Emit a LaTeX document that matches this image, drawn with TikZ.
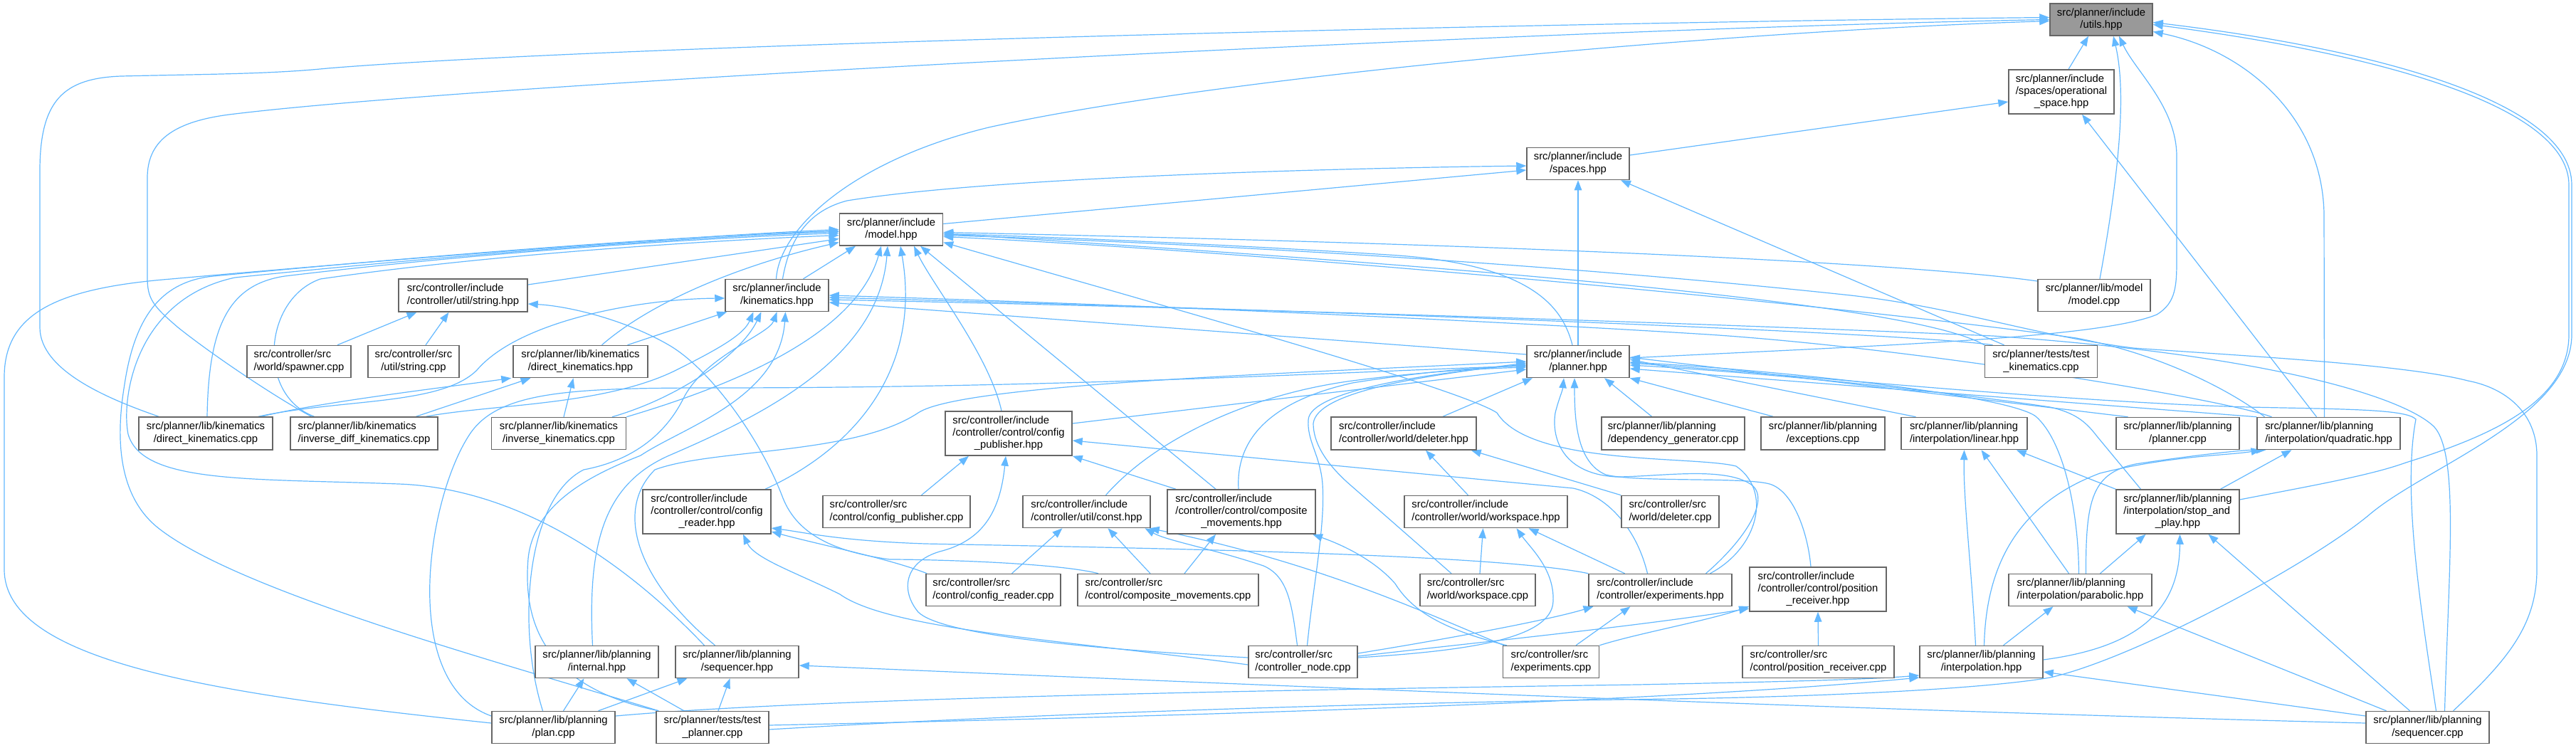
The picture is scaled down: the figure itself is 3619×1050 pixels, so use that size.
\documentclass[tikz,border=0pt]{standalone}
\usepackage{fontspec}
\setmainfont{Liberation Sans}
\usetikzlibrary{arrows.meta}
\definecolor{edgeblue}{HTML}{63B8FF}
\definecolor{boxline}{HTML}{666666}
\definecolor{rootfill}{HTML}{999999}
\newcommand{\twol}[2]{\begin{tabular}{@{}l@{}}#1\\\multicolumn{1}{@{}c@{}}{#2}\end{tabular}}
\newcommand{\threel}[3]{\begin{tabular}{@{}l@{}}#1\\#2\\\multicolumn{1}{@{}c@{}}{#3}\end{tabular}}
\pgfdeclarelayer{bg}
\pgfsetlayers{bg,main}
\begin{document}
\begin{tikzpicture}[x=1pt,y=-1pt,
 nb/.style={draw=boxline,line width=1.5pt,fill=white,inner sep=0pt,font=\fontsize{14.8}{17.3}\selectfont},
 e/.style={draw=edgeblue,line width=1.2pt,-{Triangle[length=14pt,width=10.5pt]}}]
\useasboundingbox (0,0) rectangle (3619,1050);
% ---------------- nodes
\node[nb,fill=rootfill,minimum width=144pt,minimum height=45pt] (utils) at (2952,27.5) {\twol{src/planner/include}{/utils.hpp}};
\node[nb,minimum width=148pt,minimum height=62pt] (opsp) at (2896,129) {\threel{src/planner/include}{/spaces/operational}{\_space.hpp}};
\node[nb,minimum width=144pt,minimum height=45pt] (spaces) at (2217,230) {\twol{src/planner/include}{/spaces.hpp}};
\node[nb,minimum width=145pt,minimum height=45pt] (model) at (1252,322.5) {\twol{src/planner/include}{/model.hpp}};
\node[nb,minimum width=181pt,minimum height=46pt] (stringh) at (650.5,415) {\twol{src/controller/include}{/controller/util/string.hpp}};
\node[nb,minimum width=145pt,minimum height=45pt] (kin) at (1091.5,415) {\twol{src/planner/include}{/kinematics.hpp}};
\node[nb,minimum width=158pt,minimum height=45pt] (modelcpp) at (2942,415) {\twol{src/planner/lib/model}{/model.cpp}};
\node[nb,minimum width=146pt,minimum height=45pt] (spawner) at (420,508) {\twol{src/controller/src}{/world/spawner.cpp}};
\node[nb,minimum width=128pt,minimum height=45pt] (stringcpp) at (581,508) {\twol{src/controller/src}{/util/string.cpp}};
\node[nb,minimum width=189pt,minimum height=45pt] (dkh) at (815.5,508) {\twol{src/planner/lib/kinematics}{/direct\_kinematics.hpp}};
\node[nb,minimum width=144pt,minimum height=45pt] (planner) at (2217,508) {\twol{src/planner/include}{/planner.hpp}};
\node[nb,minimum width=158pt,minimum height=45pt] (testkin) at (2867.5,508) {\twol{src/planner/tests/test}{\_kinematics.cpp}};
\node[nb,minimum width=188pt,minimum height=46pt] (dkcpp) at (289,609) {\twol{src/planner/lib/kinematics}{/direct\_kinematics.cpp}};
\node[nb,minimum width=207pt,minimum height=46pt] (idkcpp) at (511.5,609) {\twol{src/planner/lib/kinematics}{/inverse\_diff\_kinematics.cpp}};
\node[nb,minimum width=189pt,minimum height=45pt] (ikcpp) at (785,609) {\twol{src/planner/lib/kinematics}{/inverse\_kinematics.cpp}};
\node[nb,minimum width=178pt,minimum height=62pt] (cfgpub) at (1417,609) {\threel{src/controller/include}{/controller/control/config}{\_publisher.hpp}};
\node[nb,minimum width=204pt,minimum height=46pt] (deleterh) at (1972,609) {\twol{src/controller/include}{/controller/world/deleter.hpp}};
\node[nb,minimum width=201pt,minimum height=46pt] (depgen) at (2350.5,609) {\twol{src/planner/lib/planning}{/dependency\_generator.cpp}};
\node[nb,minimum width=174pt,minimum height=46pt] (exceptions) at (2561,609) {\twol{src/planner/lib/planning}{/exceptions.cpp}};
\node[nb,minimum width=177pt,minimum height=45pt] (linear) at (2759.5,609) {\twol{src/planner/lib/planning}{/interpolation/linear.hpp}};
\node[nb,minimum width=173pt,minimum height=45pt] (plannercpp) at (3059.5,609) {\twol{src/planner/lib/planning}{/planner.cpp}};
\node[nb,minimum width=201pt,minimum height=45pt] (quadratic) at (3271.5,609) {\twol{src/planner/lib/planning}{/interpolation/quadratic.hpp}};
\node[nb,minimum width=180pt,minimum height=62pt] (cfgreaderh) at (993,719) {\threel{src/controller/include}{/controller/control/config}{\_reader.hpp}};
\node[nb,minimum width=207pt,minimum height=45pt] (cfgpubcpp) at (1259.5,719) {\twol{src/controller/src}{/control/config\_publisher.cpp}};
\node[nb,minimum width=179pt,minimum height=45pt] (const) at (1526.5,719) {\twol{src/controller/include}{/controller/util/const.hpp}};
\node[nb,minimum width=208pt,minimum height=62pt] (composite) at (1744,719) {\threel{src/controller/include}{/controller/control/composite}{\_movements.hpp}};
\node[nb,minimum width=229pt,minimum height=45pt] (workspaceh) at (2087.5,719) {\twol{src/controller/include}{/controller/world/workspace.hpp}};
\node[nb,minimum width=137pt,minimum height=45pt] (deletercpp) at (2346.5,719) {\twol{src/controller/src}{/world/deleter.cpp}};
\node[nb,minimum width=173pt,minimum height=62pt] (stopplay) at (3059.5,719) {\threel{src/planner/lib/planning}{/interpolation/stop\_and}{\_play.hpp}};
\node[nb,minimum width=189pt,minimum height=45pt] (cfgreadercpp) at (1395.5,829) {\twol{src/controller/src}{/control/config\_reader.cpp}};
\node[nb,minimum width=254pt,minimum height=45pt] (compcpp) at (1641,829) {\twol{src/controller/src}{/control/composite\_movements.cpp}};
\node[nb,minimum width=162pt,minimum height=45pt] (wscpp) at (2076,829) {\twol{src/controller/src}{/world/workspace.cpp}};
\node[nb,minimum width=201pt,minimum height=45pt] (exph) at (2332.5,829) {\twol{src/controller/include}{/controller/experiments.hpp}};
\node[nb,minimum width=192pt,minimum height=62pt] (posrecvh) at (2554,828) {\threel{src/controller/include}{/controller/control/position}{\_receiver.hpp}};
\node[nb,minimum width=201pt,minimum height=45pt] (parabolic) at (2922.5,829) {\twol{src/planner/lib/planning}{/interpolation/parabolic.hpp}};
\node[nb,minimum width=173pt,minimum height=45pt] (internal) at (838.5,930) {\twol{src/planner/lib/planning}{/internal.hpp}};
\node[nb,minimum width=173pt,minimum height=45pt] (seqhpp) at (1035.5,930) {\twol{src/planner/lib/planning}{/sequencer.hpp}};
\node[nb,minimum width=153pt,minimum height=45pt] (ctrlnode) at (1830.5,930) {\twol{src/controller/src}{/controller\_node.cpp}};
\node[nb,minimum width=135pt,minimum height=45pt] (expcpp) at (2179,930) {\twol{src/controller/src}{/experiments.cpp}};
\node[nb,minimum width=213pt,minimum height=45pt] (posrecvcpp) at (2554.5,930) {\twol{src/controller/src}{/control/position\_receiver.cpp}};
\node[nb,minimum width=173pt,minimum height=45pt] (interp) at (2783.5,930) {\twol{src/planner/lib/planning}{/interpolation.hpp}};
\node[nb,minimum width=173pt,minimum height=45pt] (plancpp) at (777.5,1022) {\twol{src/planner/lib/planning}{/plan.cpp}};
\node[nb,minimum width=158pt,minimum height=45pt] (testplanner) at (1001,1022) {\twol{src/planner/tests/test}{\_planner.cpp}};
\node[nb,minimum width=173pt,minimum height=45pt] (seqcpp) at (3410.5,1022) {\twol{src/planner/lib/planning}{/sequencer.cpp}};
% ---------------- edges
\begin{pgfonlayer}{bg}
% utils
\draw[e] ([xshift=10pt]opsp.north) -- ([xshift=-18pt]utils.south);
\draw[e] ([xshift=8pt]modelcpp.north) .. controls (2972,270) and (2990,140) .. ([xshift=17pt]utils.south);
\draw[e] ([yshift=5pt]planner.east) .. controls (2650,485) and (2950,475) .. (3030,442) .. controls (3058,425) and (3058,400) .. (3058,360) -- (3058,220) .. controls (3058,150) and (3000,100) .. ([xshift=25pt]utils.south);
\draw[e] ([xshift=-6pt]quadratic.north) -- (3265,300) .. controls (3262,160) and (3150,70) .. ([yshift=-17pt]utils.east);
\draw[e] ([yshift=17pt]stopplay.east) .. controls (3250,682) and (3330,668) .. (3380,650) .. controls (3500,612) and (3609,565) .. (3609,470) -- (3609,260) .. controls (3609,140) and (3300,70) .. ([yshift=-7pt]utils.east);
\draw[e] ([yshift=-3pt]testplanner.east) .. controls (1500,1000) and (2000,986) .. (2350,982) .. controls (2600,978) and (2800,966) .. (2880,952) .. controls (3000,925) and (3250,790) .. (3330,722) .. controls (3410,655) and (3613,585) .. (3613,470) -- (3613,260) .. controls (3613,135) and (3300,64) .. ([yshift=-4pt]utils.east);
\draw[e] ([xshift=-1pt]kin.north) .. controls (1095,320) and (1200,225) .. (1389,179) .. controls (1700,110) and (2400,45) .. ([yshift=-2pt]utils.west);
\draw[e] ([xshift=-66pt]dkcpp.north) .. controls (150,560) and (56,520) .. (56,460) -- (56,240) .. controls (56,140) and (90,110) .. (170,107) .. controls (300,104) and (380,104) .. (460,96) .. controls (900,60) and (2300,30) .. ([yshift=3pt]utils.west);
\draw[e] ([xshift=-74pt]idkcpp.north) .. controls (390,560) and (300,500) .. (250,460) .. controls (215,430) and (207,420) .. (207,390) -- (207,250) .. controls (207,200) and (240,170) .. (330,160) .. controls (700,115) and (2200,40) .. ([yshift=0pt]utils.west);
% opsp
\draw[e] ([yshift=12pt]spaces.east) -- ([yshift=-14pt]opsp.west);
\draw[e] ([xshift=-17pt]quadratic.north) -- ([xshift=29pt]opsp.south);
% spaces
\draw[e] ([xshift=8pt]kin.north) .. controls (1110,330) and (1140,295) .. (1190,282) .. controls (1400,248) and (1900,236) .. ([yshift=-3pt]spaces.west);
\draw[e] ([yshift=8pt]model.east) -- ([yshift=-9pt]spaces.west);
\draw[e] (planner.north) -- (spaces.south);
\draw[e] ([xshift=-52pt]testkin.north) -- ([xshift=60pt]spaces.south);
% model
\draw[e] ([xshift=37pt]kin.north) -- ([xshift=-50pt]model.south);
\draw[e] ([yshift=6pt]plancpp.west) .. controls (300,975) and (6,930) .. (6,800) -- (6,530) .. controls (6,440) and (80,405) .. (240,392) .. controls (600,360) and (1000,330) .. ([yshift=0pt]model.west);
\draw[e] ([xshift=4pt]testplanner.north west) .. controls (700,930) and (330,830) .. (220,740) .. controls (160,690) and (165,600) .. (175,540) .. controls (190,440) and (230,395) .. (300,388) .. controls (700,350) and (1000,330) .. ([yshift=-2pt]model.west);
\draw[e] ([xshift=-46pt]seqhpp.north) .. controls (850,760) and (700,685) .. (560,680) .. controls (350,672) and (200,680) .. (180,610) .. controls (170,560) and (190,420) .. (330,390) .. controls (700,352) and (1000,332) .. ([yshift=-3pt]model.west);
\draw[e] ([xshift=2pt]dkcpp.north) .. controls (293,460) and (320,400) .. (400,388) .. controls (700,352) and (1000,334) .. ([yshift=-5pt]model.west);
\draw[e] ([xshift=-70pt]idkcpp.north) .. controls (360,555) and (370,420) .. (450,392) .. controls (700,356) and (1000,338) .. ([yshift=-8pt]model.west);
\draw[e] ([yshift=15pt]stringh.east) -- ([yshift=-13pt]model.west);
\draw[e] ([xshift=30pt]dkh.north) .. controls (920,420) and (1050,370) .. ([yshift=-18pt]model.west);
\draw[e] (ikcpp.north east) .. controls (1000,550) and (1200,480) .. ([xshift=-14pt]model.south);
\draw[e] ([xshift=-6pt]internal.north) .. controls (825,760) and (850,680) .. (940,640) .. controls (1080,580) and (1235,500) .. ([xshift=-5pt]model.south);
\draw[e] ([xshift=82pt]cfgreaderh.north) .. controls (1200,630) and (1295,520) .. ([xshift=13pt]model.south);
\draw[e] ([xshift=-10pt]cfgpub.north) .. controls (1390,500) and (1310,400) .. ([xshift=32pt]model.south);
\draw[e] ([xshift=-36pt]composite.north) -- ([xshift=41pt]model.south);
\draw[e] ([yshift=20pt]modelcpp.west) .. controls (2700,372) and (2200,345) .. ([yshift=-4pt]model.east);
\draw[e] (testkin.north west) .. controls (2720,445) and (2400,395) .. ([yshift=-6pt]model.east);
\draw[e] ([xshift=36pt]seqcpp.north) .. controls (3520,930) and (3564,880) .. (3564,800) -- (3564,640) .. controls (3564,580) and (3520,545) .. (3467,535) .. controls (3380,512) and (3150,500) .. (2997,489) .. controls (2850,470) and (2750,432) .. (2600,415) .. controls (2200,372) and (1700,342) .. ([yshift=-8pt]model.east);
\draw[e] ([xshift=-90pt]quadratic.north) .. controls (3150,560) and (3050,500) .. (2917,475) .. controls (2600,430) and (1800,355) .. ([yshift=-10pt]model.east);
\draw[e] ([xshift=-8pt]planner.north) .. controls (2195,430) and (2150,370) .. (1950,358) .. controls (1700,342) and (1450,332) .. ([yshift=-6pt]model.east);
\draw[e] ([xshift=70pt]exph.north) .. controls (2470,770) and (2490,690) .. (2439,655) .. controls (2380,640) and (2150,655) .. (2103,580) .. controls (2050,545) and (1600,420) .. ([yshift=-18pt]model.east);
% kinematics
\draw[e] ([xshift=74pt]dkcpp.north) .. controls (480,560) and (620,570) .. (670,520) .. controls (730,450) and (900,420) .. ([yshift=-4pt]kin.west);
\draw[e] ([xshift=66pt]dkh.north) -- ([xshift=3pt]kin.south west);
\draw[e] ([xshift=87pt]idkcpp.north) .. controls (690,568) and (850,570) .. (950,520) .. controls (1010,490) and (1045,470) .. ([xshift=-33pt]kin.south);
\draw[e] ([xshift=75pt]ikcpp.north) .. controls (950,560) and (1040,500) .. ([xshift=-22pt]kin.south);
\draw[e] ([xshift=-15pt]plancpp.north) .. controls (725,880) and (740,700) .. (820,660) .. controls (900,645) and (940,600) .. (960,560) .. controls (990,500) and (1080,470) .. ([xshift=0pt]kin.south);
\draw[e] ([xshift=4pt]testplanner.north west) .. controls (760,965) and (735,870) .. (742,785) .. controls (750,700) and (850,660) .. (900,640) .. controls (960,600) and (1095,560) .. ([xshift=12pt]kin.south);
\draw[e] ([yshift=10pt]planner.west) -- ([yshift=-10pt]kin.east);
\draw[e] ([xshift=-68pt]testkin.north) .. controls (2700,470) and (2000,440) .. ([yshift=-3pt]kin.east);
\draw[e] ([xshift=24pt]seqcpp.north) .. controls (3440,800) and (3455,640) .. (3420,600) .. controls (3380,560) and (3200,500) .. (2800,472) .. controls (2300,450) and (1600,430) .. ([yshift=-6pt]kin.east);
\draw[e] ([xshift=-80pt]quadratic.north) .. controls (3120,560) and (2700,490) .. (2400,470) .. controls (2000,445) and (1500,425) .. ([yshift=0pt]kin.east);
% dkh
\draw[e] ([xshift=78pt]dkcpp.north) .. controls (450,565) and (620,545) .. ([xshift=-2pt]dkh.south west);
\draw[e] ([xshift=73pt]idkcpp.north) -- ([xshift=-70pt]dkh.south);
\draw[e] ([xshift=7pt]ikcpp.north) -- ([xshift=-10pt]dkh.south);
% string.hpp
\draw[e] ([xshift=54pt]spawner.north) -- ([xshift=-65pt]stringh.south);
\draw[e] ([xshift=17pt]stringcpp.north) -- ([xshift=-20pt]stringh.south);
\draw[e] ([xshift=-98pt]compcpp.north) .. controls (1480,790) and (1300,786) .. (1250,786) .. controls (1170,775) and (1120,750) .. (1100,700) .. controls (1070,620) and (1000,520) .. (940,485) .. controls (880,450) and (800,430) .. ([yshift=-12pt]stringh.east);
% planner (left)
\draw[e] ([yshift=14pt]cfgpub.east) -- ([yshift=-11pt]planner.west);
\draw[e] ([xshift=27pt]const.north) .. controls (1620,620) and (1750,555) .. (1900,535) .. controls (2000,522) and (2080,518) .. ([yshift=-8pt]planner.west);
\draw[e] ([xshift=-4pt]composite.north) .. controls (1736,620) and (1780,565) .. (1900,538) .. controls (2000,522) and (2080,516) .. ([yshift=-6pt]planner.west);
\draw[e] ([xshift=6pt]ctrlnode.north) .. controls (1845,820) and (1862,740) .. (1858,680) .. controls (1855,640) and (1836,620) .. (1838,590) .. controls (1840,550) and (2000,525) .. ([yshift=-4pt]planner.west);
\draw[e] ([xshift=-37pt]wscpp.north) -- (1900,684) .. controls (1860,650) and (1845,620) .. (1845,595) .. controls (1850,550) and (2000,528) .. ([yshift=-2pt]planner.west);
\draw[e] ([xshift=-31pt]seqhpp.north) .. controls (900,820) and (860,720) .. (920,660) .. controls (1000,630) and (1200,640) .. (1290,580) .. controls (1350,540) and (1800,525) .. ([yshift=0pt]planner.west);
\draw[e] ([yshift=16pt]plancpp.west) .. controls (560,960) and (600,700) .. (660,610) .. controls (700,550) and (800,545) .. (1000,545) .. controls (1500,545) and (1900,522) .. ([yshift=-6pt]planner.west);
% config_publisher.hpp
\draw[e] ([xshift=35pt]cfgpubcpp.north) -- ([xshift=-56pt]cfgpub.south);
\draw[e] ([yshift=6pt]ctrlnode.west) .. controls (1500,910) and (1320,890) .. (1290,860) .. controls (1265,830) and (1270,790) .. (1320,775) .. controls (1380,760) and (1405,720) .. ([xshift=-4pt]cfgpub.south);
\draw[e] ([xshift=-92pt]composite.north) -- (cfgpub.south east);
\draw[e] ([xshift=-18pt]exph.north) .. controls (2300,745) and (2260,697) .. (2210,686) -- ([yshift=-10pt]cfgpub.east);
% config_reader.hpp
\draw[e] (exph.north west) .. controls (2100,778) and (1600,770) .. (1300,764) .. controls (1180,760) and (1130,748) .. ([yshift=-23pt]cfgreaderh.east);
\draw[e] ([xshift=2pt]cfgreadercpp.north west) .. controls (1250,785) and (1150,765) .. ([yshift=-28pt]cfgreaderh.east);
\draw[e] ([yshift=-4pt]ctrlnode.west) .. controls (1500,900) and (1250,885) .. (1180,835) .. controls (1120,805) and (1060,785) .. ([xshift=51pt]cfgreaderh.south);
% const.hpp
\draw[e] ([xshift=26pt]cfgreadercpp.north) -- ([xshift=-34pt]const.south);
\draw[e] ([xshift=-25pt]compcpp.north) -- ([xshift=30pt]const.south);
\draw[e] ([xshift=-8pt]ctrlnode.north) .. controls (1815,850) and (1810,810) .. (1775,795) .. controls (1700,770) and (1640,760) .. ([xshift=82pt]const.south);
\draw[e] ([xshift=2pt]expcpp.north west) .. controls (2000,860) and (1850,790) .. ([xshift=-2pt]const.south east);
% composite_movements.hpp
\draw[e] ([xshift=23pt]compcpp.north) -- ([xshift=-36pt]composite.south);
\draw[e] ([xshift=6pt]expcpp.north west) .. controls (2030,885) and (1985,860) .. (1960,820) .. controls (1925,780) and (1870,760) .. ([xshift=100pt]composite.south);
% workspace.hpp
\draw[e] ([xshift=3pt]wscpp.north) -- ([xshift=-4pt]workspaceh.south);
\draw[e] ([yshift=6pt]ctrlnode.east) .. controls (2050,915) and (2180,900) .. (2182,845) .. controls (2184,800) and (2150,770) .. ([xshift=43pt]workspaceh.south);
\draw[e] ([xshift=-50pt]exph.north) -- ([xshift=60pt]workspaceh.south);
% deleter.hpp
\draw[e] ([xshift=-25pt]workspaceh.north) -- ([xshift=31pt]deleterh.south);
\draw[e] (deletercpp.north west) -- ([xshift=-8pt]deleterh.south east);
% planner (below / right)
\draw[e] ([xshift=55pt]deleterh.north) -- ([xshift=-64pt]planner.south);
\draw[e] ([xshift=-30pt]depgen.north) -- ([xshift=37pt]planner.south);
\draw[e] ([xshift=-70pt]exceptions.north) -- (planner.south east);
\draw[e] ([xshift=-68pt]linear.north) -- ([yshift=3pt]planner.east);
\draw[e] ([xshift=-70pt]plannercpp.north) -- ([yshift=6pt]planner.east);
\draw[e] (quadratic.north west) -- ([yshift=-10pt]planner.east);
\draw[e] ([xshift=-52pt]stopplay.north) -- (2946,613) .. controls (2930,592) and (2915,580) .. (2880,572) .. controls (2700,545) and (2450,522) .. ([yshift=-5pt]planner.east);
\draw[e] ([xshift=-2pt]parabolic.north) .. controls (2920,720) and (2900,620) .. (2860,585) .. controls (2820,555) and (2500,520) .. ([yshift=-1pt]planner.east);
\draw[e] ([xshift=-10pt]posrecvh.north) .. controls (2540,750) and (2520,690) .. (2486,680) .. controls (2450,670) and (2300,678) .. (2256,667) .. controls (2215,650) and (2212,590) .. ([xshift=-5pt]planner.south);
\draw[e] ([xshift=64pt]exph.north) .. controls (2450,760) and (2490,700) .. (2459,680) .. controls (2420,655) and (2330,670) .. (2270,670) .. controls (2190,665) and (2180,610) .. (2185,580) .. controls (2190,560) and (2195,550) .. ([xshift=-20pt]planner.south);
\draw[e] ([xshift=12pt]seqcpp.north) .. controls (3400,850) and (3375,690) .. (3394,589) .. controls (3380,575) and (3300,575) .. (3159,572) .. controls (2900,565) and (2500,525) .. ([yshift=-2pt]planner.east);
% position_receiver.hpp
\draw[e] (posrecvcpp.north) -- (posrecvh.south);
\draw[e] ([yshift=8pt]ctrlnode.east) .. controls (2100,900) and (2300,880) .. ([yshift=-27pt]posrecvh.west);
\draw[e] (expcpp.north east) .. controls (2300,890) and (2400,872) .. ([yshift=-24pt]posrecvh.west);
% experiments.hpp
\draw[e] ([yshift=12pt]ctrlnode.east) .. controls (2050,895) and (2180,870) .. ([xshift=-94pt]exph.south);
\draw[e] ([xshift=35pt]expcpp.north) -- ([xshift=-42pt]exph.south);
% linear.hpp
\draw[e] ([xshift=-8pt]interp.north) .. controls (2770,800) and (2758,700) .. (linear.south);
\draw[e] ([xshift=-16pt]parabolic.north) -- ([xshift=24pt]linear.south);
\draw[e] (stopplay.north west) -- ([xshift=-16pt]linear.south east);
% quadratic.hpp
\draw[e] ([xshift=60pt]stopplay.north) -- ([xshift=-52pt]quadratic.south);
\draw[e] ([xshift=8pt]parabolic.north) .. controls (2930,700) and (2940,665) .. (3000,652) .. controls (3080,640) and (3150,632) .. ([xshift=-88pt]quadratic.south);
\draw[e] ([xshift=4pt]interp.north) .. controls (2790,800) and (2830,710) .. (2950,665) .. controls (3050,640) and (3130,640) .. ([xshift=-95pt]quadratic.south);
% stop_and_play.hpp
\draw[e] ([xshift=28pt]parabolic.north) -- ([xshift=-45pt]stopplay.south);
\draw[e] ([yshift=3pt]interp.east) .. controls (3000,910) and (3062,860) .. ([xshift=3pt]stopplay.south);
\draw[e] ([xshift=-25pt]seqcpp.north) -- ([xshift=43pt]stopplay.south);
% parabolic.hpp
\draw[e] ([xshift=31pt]interp.north) -- ([xshift=-38pt]parabolic.south);
\draw[e] ([xshift=-58pt]seqcpp.north) -- ([xshift=66pt]parabolic.south);
% interpolation.hpp
\draw[e] ([yshift=16pt]seqcpp.west) -- ([yshift=-14pt]interp.east);
\draw[e] ([yshift=16pt]plancpp.east) .. controls (1100,985) and (1600,972) .. (2300,962) .. controls (2500,958) and (2620,955) .. ([yshift=-19pt]interp.west);
\draw[e] ([yshift=3pt]testplanner.east) .. controls (1500,1010) and (2300,990) .. ([yshift=-22pt]interp.west);
% sequencer.hpp
\draw[e] ([xshift=63pt]plancpp.north) -- ([xshift=-70pt]seqhpp.south);
\draw[e] ([xshift=8pt]testplanner.north) -- ([xshift=-10pt]seqhpp.south);
\draw[e] ([yshift=6pt]seqcpp.west) .. controls (2500,995) and (1600,955) .. ([yshift=-5pt]seqhpp.east);
% internal.hpp
\draw[e] ([xshift=14pt]plancpp.north) -- ([xshift=-18pt]internal.south);
\draw[e] ([xshift=-40pt]testplanner.north) -- ([xshift=42pt]internal.south);
\end{pgfonlayer}
\end{tikzpicture}
\end{document}
